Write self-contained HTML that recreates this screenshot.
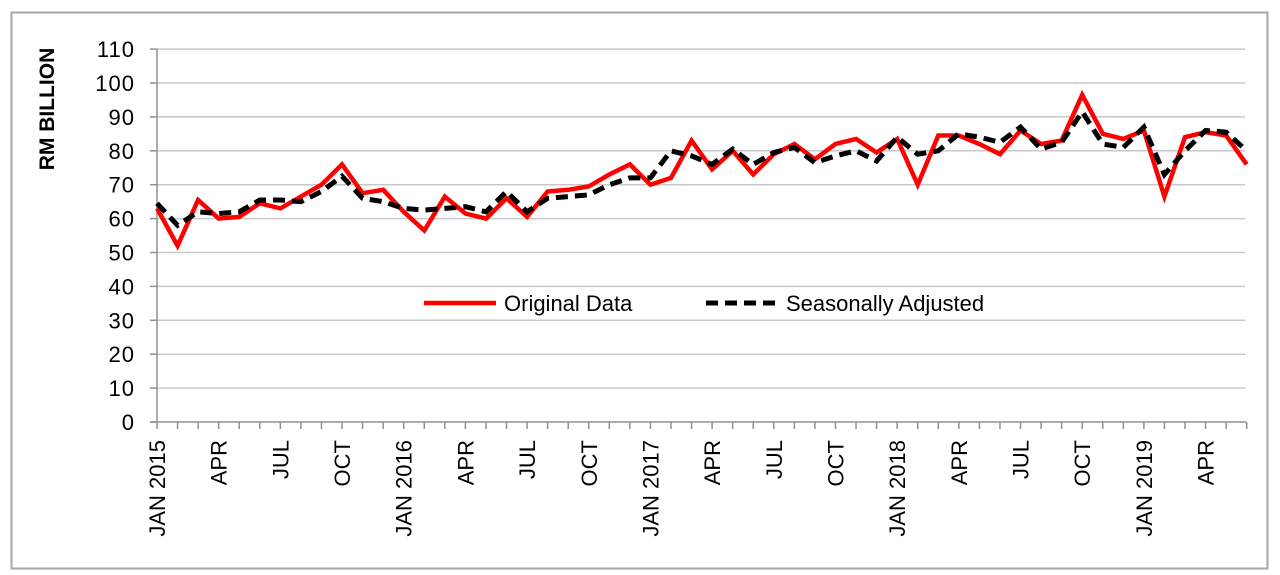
<!DOCTYPE html>
<html><head><meta charset="utf-8"><style>
html,body{margin:0;padding:0;background:#fff;}
svg{display:block;font-family:"Liberation Sans",Arial,sans-serif;}
</style></head><body>
<svg id="s" width="1280" height="575" xmlns="http://www.w3.org/2000/svg"></svg>
<script>
const s=document.getElementById('s');
const ns='http://www.w3.org/2000/svg';
function el(t,a,txt){const e=document.createElementNS(ns,t);for(const k in a)e.setAttribute(k,a[k]);if(txt!==undefined)e.textContent=txt;s.appendChild(e);return e;}
el('rect',{x:11.5,y:12.5,width:1256,height:556,fill:'#fff',stroke:'#a6a6a6','stroke-width':2});
const X0=157,DX=20.56,Y0=422,DY=3.39;
const X=i=>X0+i*DX, Y=v=>Y0-v*DY;
for(let v=10;v<=110;v+=10)el('line',{x1:X0,x2:1245,y1:Y(v),y2:Y(v),stroke:'#c8c8c8','stroke-width':1.5});
el('line',{x1:X0,x2:X0,y1:Y(110),y2:Y0,stroke:'#909090','stroke-width':1.5});
el('line',{x1:150,x2:1246,y1:Y0,y2:Y0,stroke:'#909090','stroke-width':1.5});
for(let v=0;v<=110;v+=10){el('line',{x1:150,x2:X0,y1:Y(v),y2:Y(v),stroke:'#909090','stroke-width':1.5});
el('text',{x:135,y:Y(v)+8,'text-anchor':'end','font-size':22,'letter-spacing':1,fill:'#000'},String(v));}
for(let i=0;i<=53;i++)el('line',{x1:X(i),x2:X(i),y1:Y0,y2:Y0+7,stroke:'#909090','stroke-width':1.5});
const labs={0:'JAN 2015',12:'JAN 2016',24:'JAN 2017',36:'JAN 2018',48:'JAN 2019'};
for(let i=0;i<=51;i+=3){const t=labs[i]||['JAN','APR','JUL','OCT'][(i%12)/3];
el('text',{x:0,y:0,transform:`translate(${X(i)+8},${440}) rotate(-90)`,'text-anchor':'end','font-size':22,fill:'#000'},t);}
el('text',{x:0,y:0,transform:'translate(54,109) rotate(-90)','text-anchor':'middle','font-size':21,'font-weight':'bold',fill:'#000'},'RM BILLION');
const o=[63,52,65.5,60,60.5,64.5,63,66.5,70,76,67.5,68.5,62,56.5,66.5,61.5,60,66,60.5,68,68.5,69.5,73,76,70,72,83,74.5,80,73,79,82,77.5,82,83.5,79.5,83.5,70,84.5,84.5,82,79,86,82,83,96.5,85,83.5,86,66.5,84,85.5,84.5,76];
const a=[64.5,58,62,61.5,62,65.5,65.5,65,68,72.5,66,65,63,62.5,63,63.5,62,68,62,66,66.5,67,70,72,72,80,78.5,76,80.5,76,79.5,81,76.5,78.5,80,77,84,79,80,85,84,82.5,87,80.5,82.5,91.5,82,81,87,73,80,86,85.5,80];
const pts=d=>d.map((v,i)=>X(i).toFixed(1)+','+Y(v).toFixed(1)).join(' ');
el('polyline',{points:pts(o),fill:'none',stroke:'#ff0000','stroke-width':4.5,'stroke-linejoin':'miter'});
el('polyline',{points:pts(a),fill:'none',stroke:'#000','stroke-width':5,'stroke-dasharray':'12,7'});
el('line',{x1:424,x2:496,y1:303,y2:303,stroke:'#ff0000','stroke-width':4.5});
el('text',{x:504,y:311,'font-size':22,fill:'#000'},'Original Data');
el('line',{x1:706,x2:778,y1:303,y2:303,stroke:'#000','stroke-width':5,'stroke-dasharray':'12,7'});
el('text',{x:786,y:311,'font-size':22,fill:'#000'},'Seasonally Adjusted');
</script>
</body></html>
